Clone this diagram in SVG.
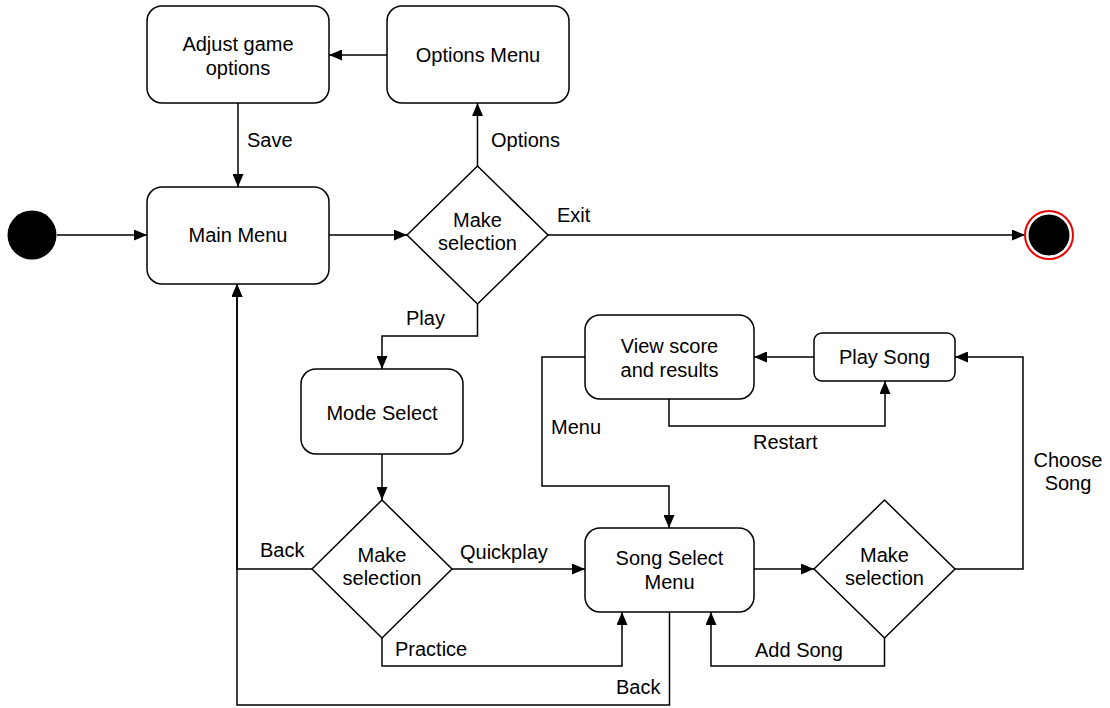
<svg xmlns="http://www.w3.org/2000/svg" width="1110" height="708" viewBox="0 0 1110 708">
<style>
.n{fill:#fff;stroke:#000;stroke-width:1.5}
.t{font-family:"Liberation Sans",Arial,sans-serif;font-size:20px;fill:#000;text-anchor:middle}
.l{font-family:"Liberation Sans",Arial,sans-serif;font-size:20px;fill:#000}
.c{fill:none;stroke:#000;stroke-width:1.5}
</style>
<defs>
<marker id="a" viewBox="0 0 13 11" refX="13" refY="5.5" markerWidth="13" markerHeight="11" markerUnits="userSpaceOnUse" orient="auto"><path d="M0,0 L13,5.5 L0,11 z" fill="#000"/></marker>
</defs>
<rect width="1110" height="708" fill="#fff"/>
<g id="connectors">
<path class="c" d="M57,235 H147" marker-end="url(#a)"/>
<path class="c" d="M329,235 H407" marker-end="url(#a)"/>
<path class="c" d="M477.5,166 V103" marker-end="url(#a)"/>
<path class="c" d="M387,55 H329" marker-end="url(#a)"/>
<path class="c" d="M238,103 V187" marker-end="url(#a)"/>
<path class="c" d="M548,235 H1025" marker-end="url(#a)"/>
<path class="c" d="M477.5,304 V336 H382 V369" marker-end="url(#a)"/>
<path class="c" d="M382,454 V500" marker-end="url(#a)"/>
<path class="c" d="M312,569 H237 V284" marker-end="url(#a)"/>
<path class="c" d="M452,569 H585" marker-end="url(#a)"/>
<path class="c" d="M382,638 V666 H622 V612" marker-end="url(#a)"/>
<path class="c" d="M669.5,612 V705 H237 V284" marker-end="url(#a)"/>
<path class="c" d="M754,569 H814" marker-end="url(#a)"/>
<path class="c" d="M955,569 H1023 V357 H955" marker-end="url(#a)"/>
<path class="c" d="M884.5,638 V666 H711 V612" marker-end="url(#a)"/>
<path class="c" d="M814,357 H754" marker-end="url(#a)"/>
<path class="c" d="M669,399 V426 H885 V381" marker-end="url(#a)"/>
<path class="c" d="M585,357 H542 V486 H669 V528" marker-end="url(#a)"/>
<text class="l" x="491" y="147">Options</text>
<text class="l" x="247" y="147">Save</text>
<text class="l" x="557" y="222">Exit</text>
<text class="l" x="406" y="325">Play</text>
<text class="l" x="260" y="557">Back</text>
<text class="l" x="460" y="559">Quickplay</text>
<text class="l" x="395" y="656">Practice</text>
<text class="l" x="616" y="694">Back</text>
<text class="l" x="755" y="657">Add Song</text>
<text class="l" x="753" y="449">Restart</text>
<text class="l" x="551" y="434">Menu</text>
<text class="t" x="1068" y="467">Choose</text>
<text class="t" x="1068" y="490">Song</text>
</g>
<g id="start"><circle cx="32" cy="235" r="24.5" fill="#000"/></g>
<g id="adjust"><rect class="n" x="147" y="6" width="182" height="97" rx="15"/><text class="t" x="238" y="51">Adjust game</text><text class="t" x="238" y="75">options</text></g>
<g id="options"><rect class="n" x="387" y="6" width="182" height="97" rx="15"/><text class="t" x="478" y="62">Options Menu</text></g>
<g id="main"><rect class="n" x="147" y="187" width="182" height="97" rx="15"/><text class="t" x="238" y="242">Main Menu</text></g>
<g id="decision1"><polygon class="n" points="407,235 477.5,166 548,235 477.5,304"/><text class="t" x="477.5" y="227">Make</text><text class="t" x="477.5" y="250">selection</text></g>
<g id="end"><circle cx="1049" cy="235" r="24" fill="#fff" stroke="#e00" stroke-width="2"/><circle cx="1049" cy="235" r="20.5" fill="#000"/></g>
<g id="mode"><rect class="n" x="301" y="369" width="162" height="85" rx="15"/><text class="t" x="382" y="420">Mode Select</text></g>
<g id="decision2"><polygon class="n" points="312,569 382,500 452,569 382,638"/><text class="t" x="382" y="562">Make</text><text class="t" x="382" y="585">selection</text></g>
<g id="songselect"><rect class="n" x="585" y="528" width="169" height="84" rx="15"/><text class="t" x="669.5" y="565">Song Select</text><text class="t" x="669.5" y="589">Menu</text></g>
<g id="viewscore"><rect class="n" x="585" y="315" width="169" height="84" rx="15"/><text class="t" x="669.5" y="353">View score</text><text class="t" x="669.5" y="377">and results</text></g>
<g id="playsong"><rect class="n" x="814" y="333" width="141" height="48" rx="8"/><text class="t" x="884.5" y="364">Play Song</text></g>
<g id="decision3"><polygon class="n" points="814,569 884.5,500 955,569 884.5,638"/><text class="t" x="884.5" y="562">Make</text><text class="t" x="884.5" y="585">selection</text></g>
</svg>
